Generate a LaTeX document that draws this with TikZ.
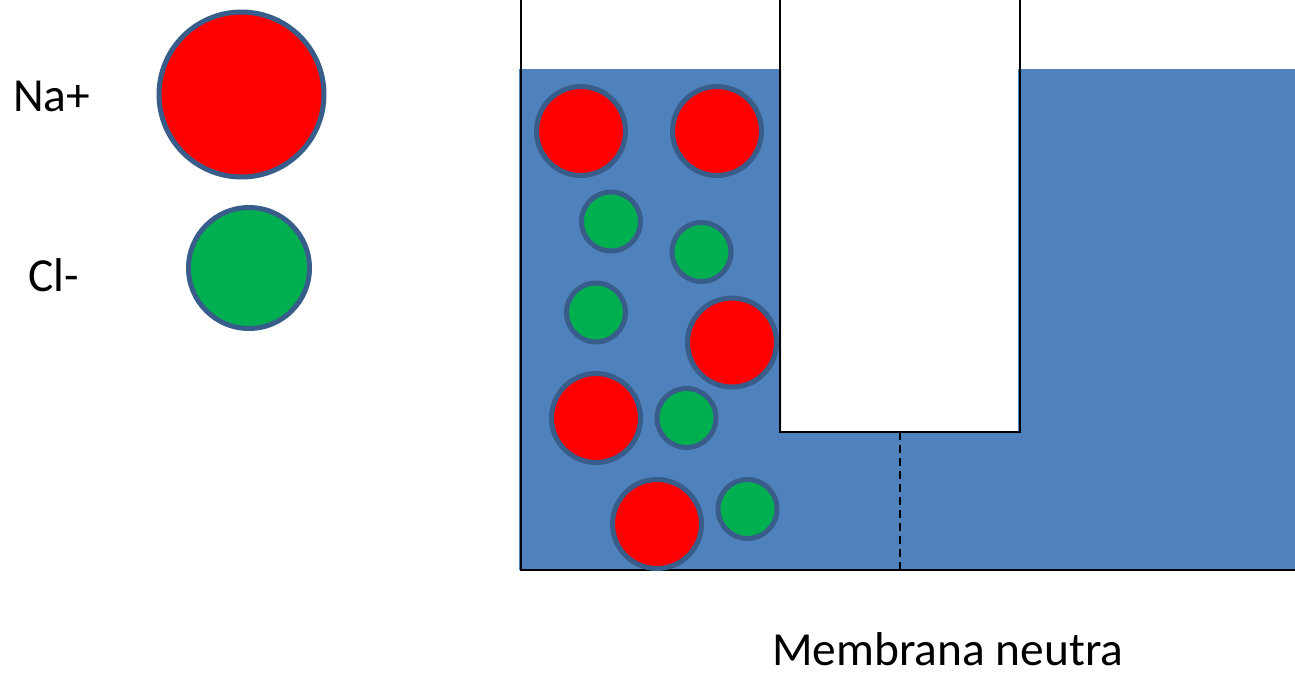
\documentclass[tikz,border=0pt]{standalone}
\usepackage{fontspec}
\setmainfont{Carlito}
\usepackage{tikz}
\usetikzlibrary{positioning}

\definecolor{water}{HTML}{4F81BD}
\definecolor{rim}{HTML}{385D8A}
\definecolor{nared}{HTML}{FF0000}
\definecolor{clgreen}{HTML}{00B050}

\tikzset{
  ion/.style={circle, draw=rim, line width=0.1cm, inner sep=0pt},
  na/.style={ion, fill=nared, minimum size=1.78cm},
  cl/.style={ion, fill=clgreen, minimum size=1.18cm},
  lbl/.style={inner sep=0pt, font=\fontsize{27}{32}\selectfont},
  wall/.style={line width=0.04cm}
}

\begin{document}
\begin{tikzpicture}[x=0.02cm, y=-0.02cm]
    \useasboundingbox (0, 0) rectangle (1295, 677);

    % legend
    \node[lbl, anchor=base west] (nalbl) at (13, 111) {Na+};
    \node[lbl, anchor=base west] (cllbl) at (28, 291) {Cl-};
    \node[na, minimum size=3.3cm] (nakey) at (241.5, 94.5) {};
    \node[cl, minimum size=2.42cm] (clkey) at (249, 268) {};

    % solution
    \fill[water] (519, 69) -- (781, 69) -- (781, 432) -- (1018, 432)
      -- (1018, 69) -- (1295, 69) -- (1295, 570) -- (519, 570) -- cycle;

    % vessel
    \coordinate (tl) at (521, 0);
    \coordinate (bl) at (521, 570);
    \coordinate (br) at (1295, 570);
    \coordinate (ul) at (780, 0);
    \coordinate (ulb) at (780, 432);
    \coordinate (urb) at (1020, 432);
    \coordinate (ur) at (1020, 0);
    \coordinate (mtop) at (900, 432);
    \coordinate (mbot) at (900, 570);

    \draw[wall] (tl) -- (bl) -- (br);
    \draw[wall] (ul) -- (ulb) -- (urb) -- (ur);
    \draw[wall, dash pattern=on 0.16cm off 0.1cm] (mtop) -- (mbot);

    % ions
    \node[na] (na1) at (581, 131) {};
    \node[na] (na2) at (717, 131) {};
    \node[cl] (cl1) at (611, 221.5) {};
    \node[cl] (cl2) at (701.5, 252) {};
    \node[cl] (cl3) at (596, 312.5) {};
    \node[na] (na3) at (732, 342.5) {};
    \node[na] (na4) at (596, 418) {};
    \node[cl] (cl4) at (686.5, 418) {};
    \node[na] (na5) at (657, 524) {};
    \node[cl] (cl5) at (747.5, 509) {};

    \node[lbl, anchor=base west] (memlbl) at (772, 665) {Membrana neutra};

  \end{tikzpicture}
\end{document}
